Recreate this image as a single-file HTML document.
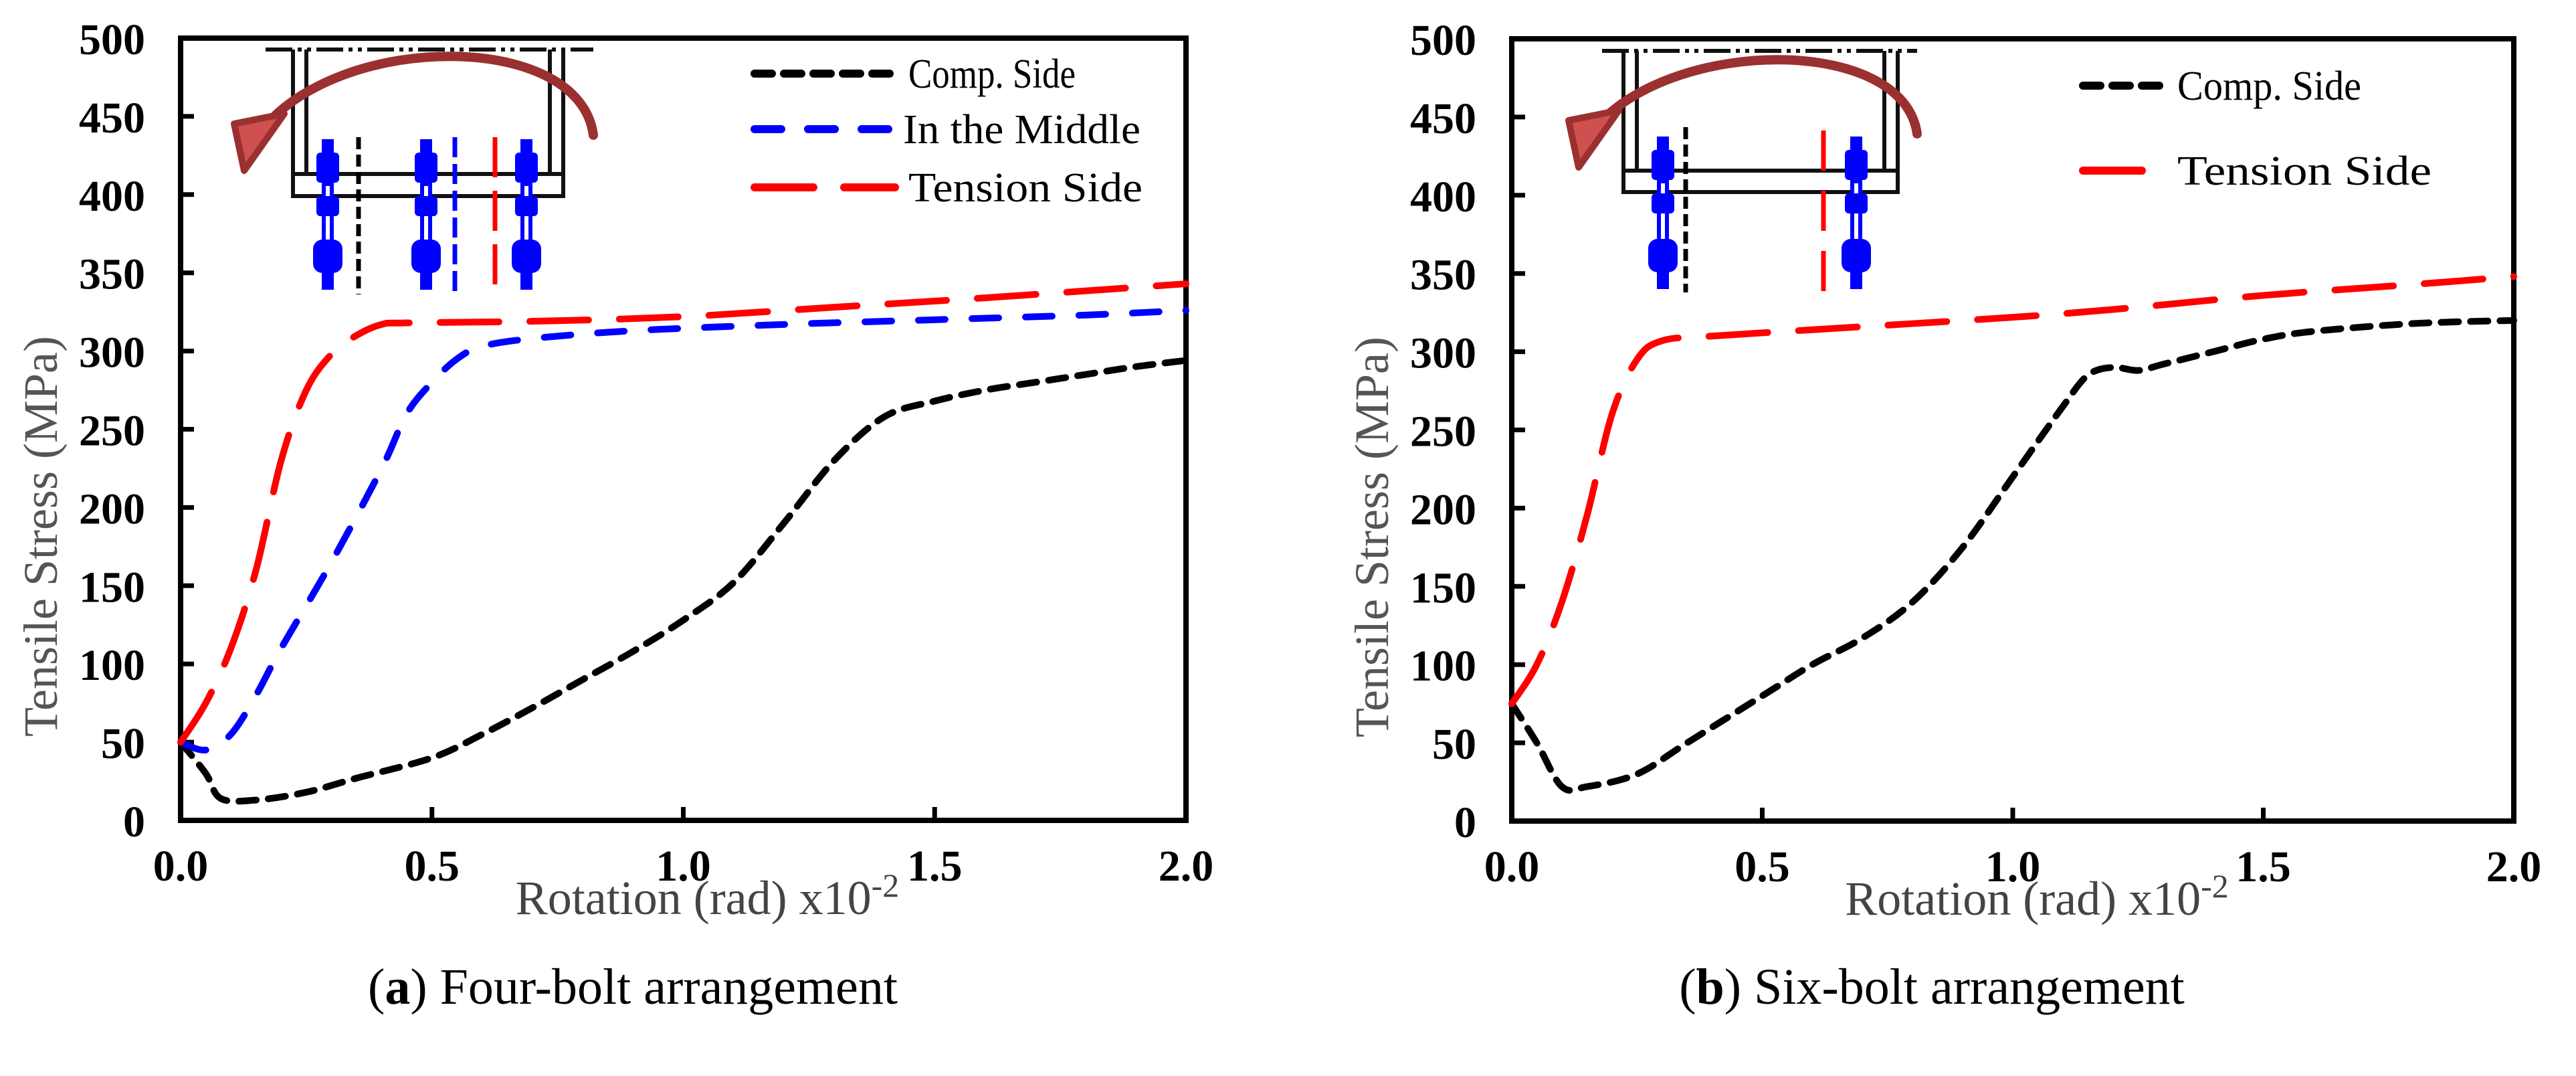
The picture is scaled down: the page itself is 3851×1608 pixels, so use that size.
<!DOCTYPE html>
<html><head><meta charset="utf-8"><style>
html,body{margin:0;padding:0;background:#fff;}
svg{display:block;font-family:"Liberation Serif",serif;}
</style></head><body>
<svg id="fig" width="3851" height="1608" viewBox="0 0 3851 1608" xmlns="http://www.w3.org/2000/svg">
<g id="panelA"></g>
<g id="panelB"></g>
</svg>
<script>
const xTicks = [0, 0.5, 1.0, 1.5, 2.0];
const xTickLabels = ["0.0", "0.5", "1.0", "1.5", "2.0"];
const yTicks = [0, 50, 100, 150, 200, 250, 300, 350, 400, 450, 500];
const yTickLabels = ["0","50","100","150","200","250","300","350","400","450","500"];

const aCompX = [0,0.05,0.08,0.15,0.25,0.35,0.5,0.6,0.7,0.8,0.9,1.0,1.1,1.2,1.3,1.4,1.5,1.6,1.7,1.8,1.9,2.0];
const aCompY = [50,30,14,13,18,27,40,55,72,90,108,128,152,190,230,258,268,275,280,285,290,294];
const aMidX = [0,0.05,0.1,0.15,0.2,0.3,0.4,0.45,0.5,0.55,0.6,0.7,0.9,1.2,1.5,1.8,2.0];
const aMidY = [50,45,55,80,110,165,225,260,280,295,303,308,313,317,320,323,326];
const aTenX = [0,0.05,0.1,0.15,0.2,0.25,0.3,0.35,0.4,0.45,0.7,1.0,1.3,1.6,2.0];
const aTenY = [50,75,110,160,230,275,298,310,317,318,319,322,328,334,343];

const bCompX = [0,0.05,0.1,0.15,0.25,0.35,0.5,0.6,0.7,0.8,0.9,1.0,1.1,1.15,1.2,1.25,1.3,1.4,1.5,1.6,1.8,2.0];
const bCompY = [75,50,22,22,30,50,80,100,117,140,175,220,265,285,290,288,292,300,308,313,318,320];
const bTenX = [0,0.05,0.1,0.15,0.2,0.25,0.3,0.4,0.7,1.0,1.2,1.5,1.8,2.0];
const bTenY = [75,100,140,195,260,295,307,310,316,322,327,336,343,348];

const NS = "http://www.w3.org/2000/svg";
function mk(parent, tag, attrs, text){
  const e = document.createElementNS(NS, tag);
  for (const k in attrs) e.setAttribute(k, attrs[k]);
  if (text !== undefined) e.textContent = text;
  parent.appendChild(e);
  return e;
}
function smoothPath(pts){
  let d = "M" + pts[0][0] + "," + pts[0][1];
  for (let i = 0; i < pts.length - 1; i++){
    const p0 = pts[Math.max(0,i-1)], p1 = pts[i], p2 = pts[i+1], p3 = pts[Math.min(pts.length-1,i+2)];
    const c1x = p1[0] + (p2[0]-p0[0])/6, c1y = p1[1] + (p2[1]-p0[1])/6;
    const c2x = p2[0] - (p3[0]-p1[0])/6, c2y = p2[1] - (p3[1]-p1[1])/6;
    d += " C" + c1x + "," + c1y + " " + c2x + "," + c2y + " " + p2[0] + "," + p2[1];
  }
  return d;
}

function panel(g, L, R, T, B, series, legend, caption, capX, diagram){
  const sx = v => L + (v/2.0)*(R-L);
  const sy = v => B - (v/500)*(B-T);
  yTicks.forEach((t,i) => {
    const tk = mk(g, "line", {x1:L, x2:L+20, y1:sy(t), y2:sy(t), stroke:"#000", "stroke-width":7});
    
    
    const lb = mk(g, "text", {x:L-53, y:sy(t)+24, "text-anchor":"end", "font-size":66, "font-weight":"bold"}, yTickLabels[i]);
    
    
  });
  xTicks.forEach((t,i) => {
    const tk = mk(g, "line", {x1:sx(t), x2:sx(t), y1:B, y2:B-20, stroke:"#000", "stroke-width":7});
    
    
    const lb = mk(g, "text", {x:sx(t), y:B+90, "text-anchor":"middle", "font-size":66, "font-weight":"bold"}, xTickLabels[i]);
    
    
  });
  const fr = mk(g, "rect", {x:L, y:T, width:R-L, height:B-T, fill:"none", stroke:"#000", "stroke-width":8});
  
  
  diagram(g);
  series.forEach(s => {
    const pts = s.x.map((v,i) => [sx(v), sy(s.y[i])]);
    const p = mk(g, "path", {d:smoothPath(pts), fill:"none", stroke:s.color, "stroke-width":10, "stroke-dasharray":s.dash, "stroke-linecap":"round"});
    
    
  });
  legend.forEach(l => {
    const ln = mk(g, "line", {x1:l.x1, x2:l.x2, y1:l.y, y2:l.y, stroke:l.color, "stroke-width":12, "stroke-dasharray":l.dash, "stroke-linecap":"round"});
    
    
    const tx = mk(g, "text", {x:l.x2+20, y:l.y+21, "font-size":62, textLength:l.w, lengthAdjust:"spacingAndGlyphs"}, l.text);
    
    
  });
  const yt = mk(g, "text", {x:0, y:0, transform:"translate(" + (L-185) + "," + ((T+B)/2 + 160) + ") rotate(-90)", "text-anchor":"middle", "font-size":72, fill:"#555"}, "Tensile Stress (MPa)");
  
  
  const xt = mk(g, "text", {x:(L+R)/2 + 36, y:B+140, "text-anchor":"middle", "font-size":72, fill:"#444"});
  
  
  xt.appendChild(document.createTextNode("Rotation (rad) x10"));
  mk(xt, "tspan", {dy:-26, "font-size":50}, "-2");
  const cap = mk(g, "text", {x:capX, y:1500, "text-anchor":"middle", "font-size":76});
  
  
  cap.appendChild(document.createTextNode("("));
  mk(cap, "tspan", {"font-weight":"bold"}, caption[0]);
  cap.appendChild(document.createTextNode(") " + caption[1]));
}

function bolt(g, x, y1, y2){
  const b = mk(g, "g", {});
  
  
  mk(b, "rect", {x:x-9, y:y1, width:18, height:y2-y1, fill:"#00f"});
  mk(b, "rect", {x:x-3, y:y1+70, width:6, height:(y2-y1)*0.45, fill:"#fff"});
  mk(b, "rect", {x:x-17, y:y1+20, width:34, height:45, fill:"#00f", rx:6});
  mk(b, "rect", {x:x-17, y:y1+85, width:34, height:30, fill:"#00f", rx:6});
  mk(b, "rect", {x:x-22, y:y2-75, width:44, height:50, fill:"#00f", rx:14});
}
function vdash(g, x, y1, y2, color, dash){
  const l = mk(g, "line", {x1:x, x2:x, y1:y1, y2:y2, stroke:color, "stroke-width":7, "stroke-dasharray":dash});
  
  
}
function frame(g, fx1, fx2, fy, bx1, bx2, py1, py2){
  const f = mk(g, "g", {fill:"none", stroke:"#111", "stroke-width":6});
  
  
  mk(f, "line", {x1:fx1, x2:fx2, y1:fy, y2:fy, "stroke-dasharray":"40 8 6 8 6 8"});
  mk(f, "line", {x1:bx1, x2:bx1, y1:fy, y2:py2});
  mk(f, "line", {x1:bx1+20, x2:bx1+20, y1:fy, y2:py1});
  mk(f, "line", {x1:bx2, x2:bx2, y1:fy, y2:py2});
  mk(f, "line", {x1:bx2-20, x2:bx2-20, y1:fy, y2:py1});
  mk(f, "rect", {x:bx1, y:py1, width:bx2-bx1, height:py2-py1});
}
function arrow(g, sx, sy, tx, ty, ex, ey){
  const a = mk(g, "g", {});
  
  
  mk(a, "path", {d:"M" + sx + "," + sy + " C" + (sx-20) + "," + (ty-40) + " " + (ex+120) + "," + (ty-40) + " " + ex + "," + ey, fill:"none", stroke:"#9b3030", "stroke-width":14, "stroke-linecap":"round"});
  mk(a, "polygon", {points:(ex-45) + "," + (ey-5) + " " + (ex+30) + "," + (ey-20) + " " + (ex-30) + "," + (ey+65), fill:"#d05050", stroke:"#9b3030", "stroke-width":10, "stroke-linejoin":"round"});
}

const dComp = "26 18", dMid = "40 40", dTen = "88 46";

panel(document.getElementById("panelA"), 270, 1773, 57, 1226,
  [{x:aCompX, y:aCompY, color:"#000", dash:dComp, name:"comp-side-line"},
   {x:aMidX, y:aMidY, color:"#00f", dash:dMid, name:"middle-line"},
   {x:aTenX, y:aTenY, color:"#f00", dash:dTen, name:"tension-side-line"}],
  [{x1:1128, x2:1338, y:110, color:"#000", dash:dComp, text:"Comp. Side", w:250},
   {x1:1128, x2:1330, y:193, color:"#00f", dash:dMid, text:"In the Middle", w:355},
   {x1:1128, x2:1338, y:280, color:"#f00", dash:dTen, text:"Tension Side", w:350}],
  ["a", "Four-bolt arrangement"], 946,
  g => {
    frame(g, 397, 887, 74, 438, 842, 260, 293);
    bolt(g, 490, 208, 433); bolt(g, 637, 208, 433); bolt(g, 787, 208, 433);
    vdash(g, 536, 205, 440, "#000", "18 8");
    vdash(g, 680, 205, 440, "#00f", "30 10");
    vdash(g, 740, 205, 430, "#f00", "60 20");
    arrow(g, 887, 202, 640, 87, 395, 190);
  });

panel(document.getElementById("panelB"), 2260, 3758, 58, 1227,
  [{x:bCompX, y:bCompY, color:"#000", dash:dComp, name:"comp-side-line"},
   {x:bTenX, y:bTenY, color:"#f00", dash:dTen, name:"tension-side-line"}],
  [{x1:3114, x2:3235, y:128, color:"#000", dash:dComp, text:"Comp. Side", w:275},
   {x1:3114, x2:3235, y:255, color:"#f00", dash:dTen, text:"Tension Side", w:380}],
  ["b", "Six-bolt arrangement"], 2888,
  g => {
    frame(g, 2395, 2866, 76, 2427, 2837, 255, 287);
    bolt(g, 2486, 204, 432); bolt(g, 2775, 204, 432);
    vdash(g, 2520, 190, 437, "#000", "18 8");
    vdash(g, 2726, 195, 435, "#f00", "60 30");
    arrow(g, 2866, 200, 2620, 95, 2390, 185);
  });
</script>
</body></html>
